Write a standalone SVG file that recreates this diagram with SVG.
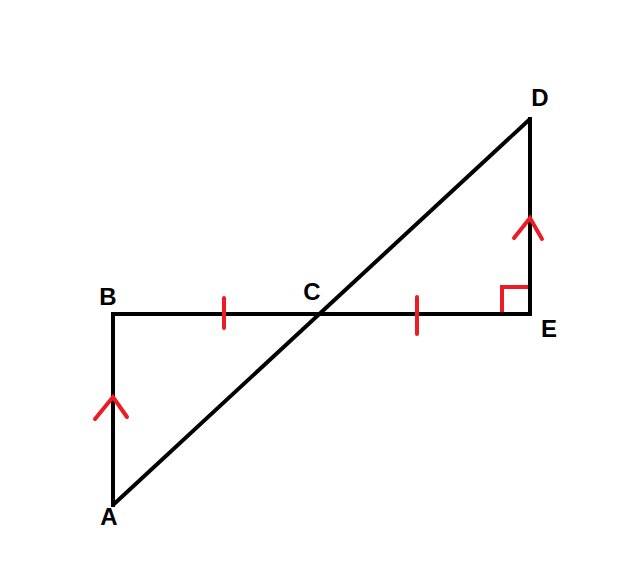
<svg xmlns="http://www.w3.org/2000/svg" width="626" height="563" viewBox="0 0 626 563">
<style>
.k{stroke:#000;stroke-width:4;fill:none;stroke-linecap:square}
.r{stroke:#ed1c24;stroke-width:4;fill:none;stroke-linecap:round}
text{font-family:"Liberation Sans",Arial,sans-serif;font-weight:bold;font-size:24px;fill:#000;text-anchor:middle}
</style>
<rect width="626" height="563" fill="#fff"/>
<g id="lines">
<polyline class="k" points="113,505 113,314 530,314 530,119"/>
<line class="k" x1="113" y1="505" x2="530" y2="119" style="stroke-linecap:butt"/>
</g>
<g id="marks">
<line class="r" x1="224" y1="298" x2="224" y2="328"/>
<line class="r" x1="417" y1="297" x2="417" y2="334"/>
<polyline class="r" points="502,312 502,287 528,287" style="stroke-linecap:butt"/>
<polyline class="r" points="514,238 530,218 542,239"/>
<polyline class="r" points="95,419 113,397 127,417"/>
</g>
<g id="labels">
<text x="540" y="106">D</text>
<text x="108" y="305">B</text>
<text x="312" y="300">C</text>
<text x="549" y="337">E</text>
<text x="109" y="525">A</text>
</g>
</svg>
